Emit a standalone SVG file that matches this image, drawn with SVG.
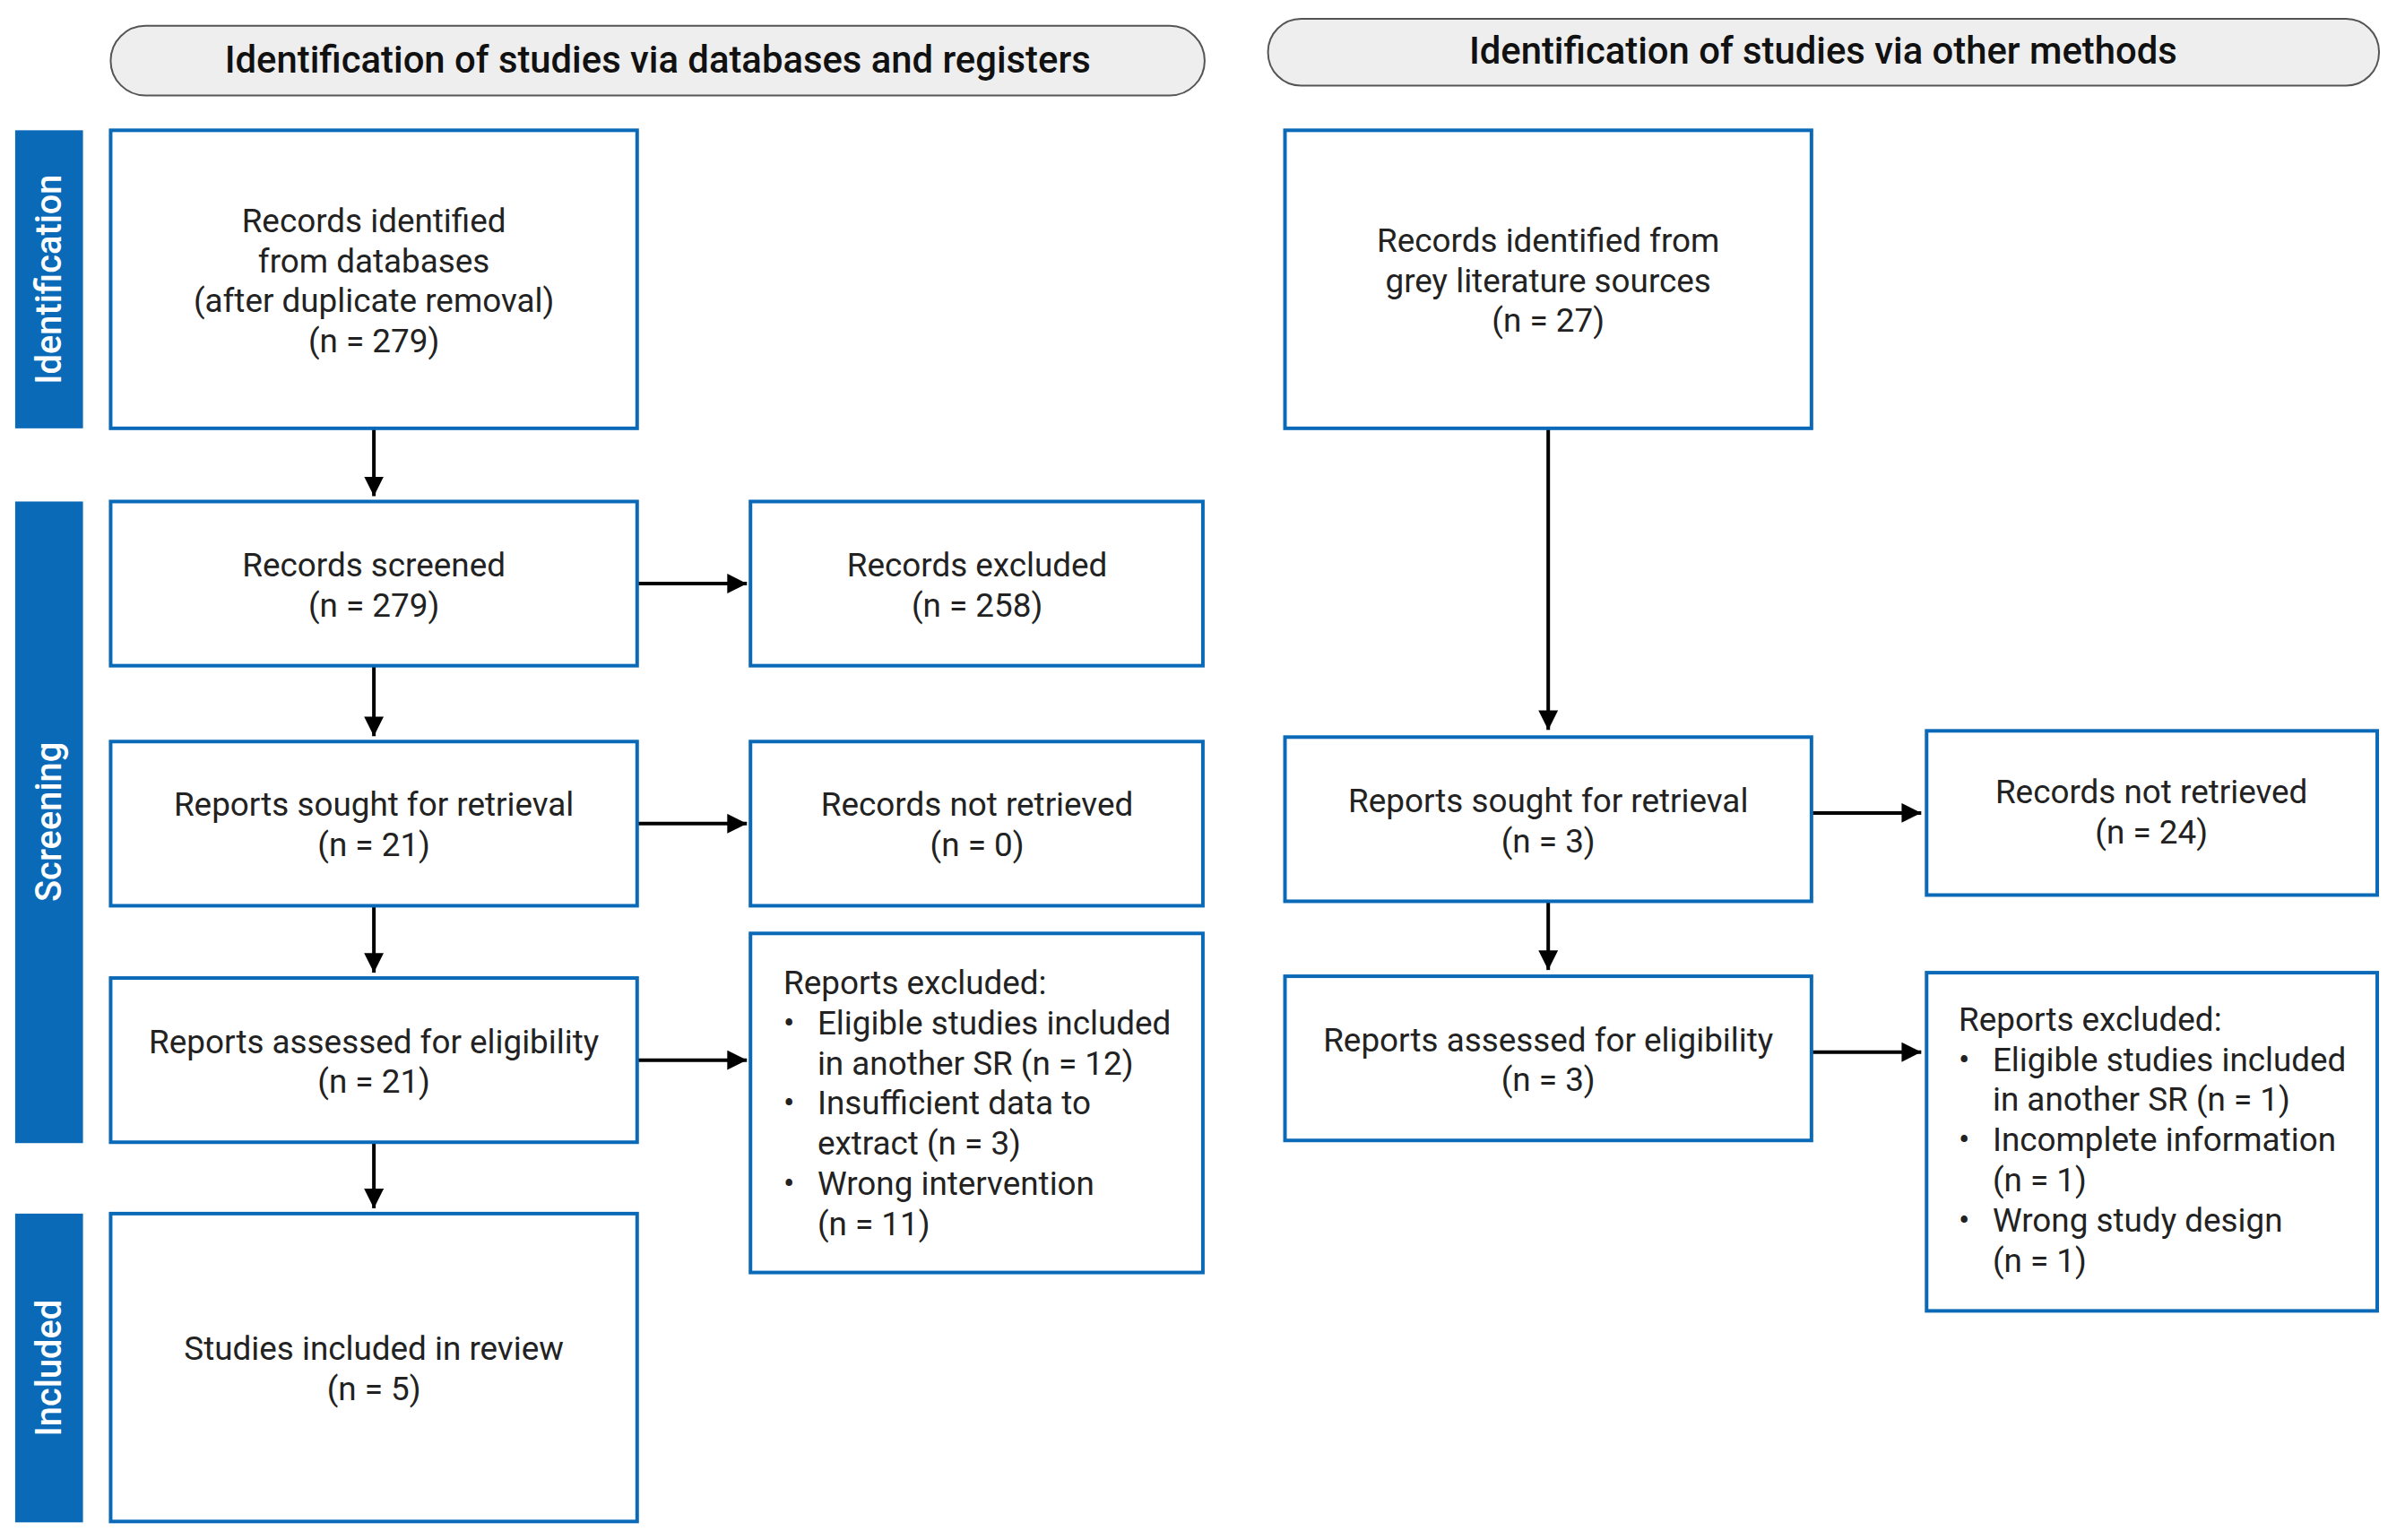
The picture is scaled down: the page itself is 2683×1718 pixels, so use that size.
<svg xmlns="http://www.w3.org/2000/svg" width="2683" height="1718" viewBox="0 0 2683 1718">
<defs>
<marker id="a" viewBox="0 0 10 10" refX="10" refY="5" markerWidth="22" markerHeight="22" markerUnits="userSpaceOnUse" orient="auto"><path d="M0,0 L10,5 L0,10 z" fill="#000"/></marker>
</defs>
<style>
.box{fill:#fff;stroke:#0a6ab8;stroke-width:4}
.hdr{fill:#eeeeee;stroke:#555;stroke-width:2}
.bar{fill:#0a6ab8}
text{font-family:Roboto,"Liberation Sans",sans-serif;font-size:37px;fill:#222}
.c{text-anchor:middle}
.h{font-size:42px;font-weight:500;fill:#111;text-anchor:middle}
.v{font-size:40px;font-weight:500;fill:#fff;text-anchor:middle}
.ln{stroke:#000;stroke-width:4;fill:none;marker-end:url(#a)}
</style>
<rect width="2683" height="1718" fill="#fff"/>
<g transform="scale(0.9955)">
<g id="hdr-left"><rect class="hdr" x="124" y="29" width="1226" height="78" rx="39"/><text class="h" x="737" y="81">Identification of studies via databases and registers</text></g>
<g id="hdr-right"><rect class="hdr" x="1421" y="21" width="1245" height="75" rx="37"/><text class="h" x="2043" y="71">Identification of studies via other methods</text></g>
<g id="bar-id"><rect class="bar" x="17" y="146" width="76" height="334"/><text class="v" transform="translate(68,313) rotate(-90)">Identification</text></g>
<g id="bar-sc"><rect class="bar" x="17" y="562" width="76" height="719"/><text class="v" transform="translate(68,921) rotate(-90)">Screening</text></g>
<g id="bar-in"><rect class="bar" x="17" y="1360" width="76" height="346"/><text class="v" transform="translate(68,1533) rotate(-90)">Included</text></g>
<g id="connectors">
<line class="ln" x1="419" y1="480" x2="419" y2="556"/>
<line class="ln" x1="714" y1="654" x2="837" y2="654"/>
<line class="ln" x1="419" y1="746" x2="419" y2="825"/>
<line class="ln" x1="714" y1="923" x2="837" y2="923"/>
<line class="ln" x1="419" y1="1015" x2="419" y2="1090"/>
<line class="ln" x1="714" y1="1188" x2="837" y2="1188"/>
<line class="ln" x1="419" y1="1280" x2="419" y2="1354"/>
<line class="ln" x1="1735" y1="480" x2="1735" y2="818"/>
<line class="ln" x1="2030" y1="911" x2="2153" y2="911"/>
<line class="ln" x1="1735" y1="1010" x2="1735" y2="1087"/>
<line class="ln" x1="2030" y1="1179" x2="2153" y2="1179"/>
</g>
<g id="n1"><rect class="box" x="124" y="146" width="590" height="334"/><text class="c" x="419" y="260">Records identified</text><text class="c" x="419" y="305">from databases</text><text class="c" x="419" y="350">(after duplicate removal)</text><text class="c" x="419" y="395">(n = 279)</text></g>
<g id="n2"><rect class="box" x="124" y="562" width="590" height="184"/><text class="c" x="419" y="646">Records screened</text><text class="c" x="419" y="691">(n = 279)</text></g>
<g id="n3"><rect class="box" x="841" y="562" width="507" height="184"/><text class="c" x="1095" y="646">Records excluded</text><text class="c" x="1095" y="691">(n = 258)</text></g>
<g id="n4"><rect class="box" x="124" y="831" width="590" height="184"/><text class="c" x="419" y="914">Reports sought for retrieval</text><text class="c" x="419" y="959">(n = 21)</text></g>
<g id="n5"><rect class="box" x="841" y="831" width="507" height="184"/><text class="c" x="1095" y="914">Records not retrieved</text><text class="c" x="1095" y="959">(n = 0)</text></g>
<g id="n6"><rect class="box" x="124" y="1096" width="590" height="184"/><text class="c" x="419" y="1180">Reports assessed for eligibility</text><text class="c" x="419" y="1225">(n = 21)</text></g>
<g id="n7"><rect class="box" x="841" y="1046" width="507" height="380"/>
<text x="878" y="1114">Reports excluded:</text>
<text x="878" y="1159">•</text><text x="916" y="1159">Eligible studies included</text><text x="916" y="1204">in another SR (n = 12)</text>
<text x="878" y="1249">•</text><text x="916" y="1249">Insufficient data to</text><text x="916" y="1294">extract (n = 3)</text>
<text x="878" y="1339">•</text><text x="916" y="1339">Wrong intervention</text><text x="916" y="1384">(n = 11)</text></g>
<g id="n8"><rect class="box" x="124" y="1360" width="590" height="345"/><text class="c" x="419" y="1524">Studies included in review</text><text class="c" x="419" y="1569">(n = 5)</text></g>
<g id="r1"><rect class="box" x="1440" y="146" width="590" height="334"/><text class="c" x="1735" y="282">Records identified from</text><text class="c" x="1735" y="327">grey literature sources</text><text class="c" x="1735" y="372">(n = 27)</text></g>
<g id="r2"><rect class="box" x="1440" y="826" width="590" height="184"/><text class="c" x="1735" y="910">Reports sought for retrieval</text><text class="c" x="1735" y="955">(n = 3)</text></g>
<g id="r3"><rect class="box" x="2159" y="819" width="505" height="184"/><text class="c" x="2411" y="900">Records not retrieved</text><text class="c" x="2411" y="945">(n = 24)</text></g>
<g id="r4"><rect class="box" x="1440" y="1094" width="590" height="184"/><text class="c" x="1735" y="1178">Reports assessed for eligibility</text><text class="c" x="1735" y="1223">(n = 3)</text></g>
<g id="r5"><rect class="box" x="2159" y="1090" width="505" height="379"/>
<text x="2195" y="1155">Reports excluded:</text>
<text x="2195" y="1200">•</text><text x="2233" y="1200">Eligible studies included</text><text x="2233" y="1245">in another SR (n = 1)</text>
<text x="2195" y="1290">•</text><text x="2233" y="1290">Incomplete information</text><text x="2233" y="1335">(n = 1)</text>
<text x="2195" y="1380">•</text><text x="2233" y="1380">Wrong study design</text><text x="2233" y="1425">(n = 1)</text></g>
</g>
</svg>
